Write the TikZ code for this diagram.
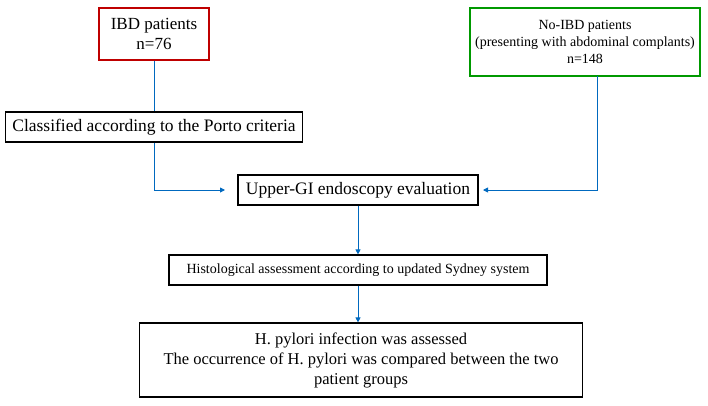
\documentclass[tikz,border=0pt]{standalone}
\usepackage{fontspec}
\setmainfont{Liberation Serif}
\usetikzlibrary{arrows.meta}
\tikzset{
	flowbox/.style={draw, line width=1.2pt, inner sep=0pt, align=center, font=\fontsize{17.5}{20}\selectfont},
	smallbox/.style={flowbox, font=\fontsize{14}{17}\selectfont},
	link/.style={draw=blue!45!cyan!75!black, line width=0.9pt},
	linkarrow/.style={link, -{Triangle[length=5pt,width=5pt]}}
}
\begin{document}
\begin{tikzpicture}[x=1pt,y=-1pt]
	\useasboundingbox (0,0) rectangle (708,405);
	\node[flowbox, draw=red!75!black, minimum width=110pt, minimum height=52pt, font=\fontsize{17}{20}\selectfont] (ibd) at (154,34) {IBD patients\\n=76};
	\node[smallbox, draw=green!60!black, minimum width=230pt, minimum height=68pt] (noibd) at (585,42) {No-IBD patients\\(presenting with abdominal complants)\\n=148};
	\node[flowbox, minimum width=297pt, minimum height=30pt] (porto) at (154,127) {Classified according to the Porto criteria};
	\node[flowbox, minimum width=240pt, minimum height=30pt] (ugi) at (358,190) {Upper-GI endoscopy evaluation};
	\node[smallbox, minimum width=378pt, minimum height=30pt] (hist) at (358,270) {Histological assessment according to updated Sydney system};
	\node[flowbox, minimum width=443pt, minimum height=74pt, font=\fontsize{16.5}{20}\selectfont] (hp) at (361,360) {H. pylori infection was assessed\\The occurrence of H. pylori was compared between the two\\patient groups};
	\coordinate (jl) at (225,190);
	\coordinate (jr) at (483,190);
	\coordinate (nb) at (597,76);
	% connectors
	\draw[link] (ibd.south) -- (porto.north);
	\draw[linkarrow] (porto.south) |- (jl);
	\draw[linkarrow] (nb) |- (jr);
	\draw[linkarrow] (ugi.south) -- (hist.north);
	\draw[linkarrow] (hist.south) -- (hist.south |- hp.north);
\end{tikzpicture}
\end{document}
